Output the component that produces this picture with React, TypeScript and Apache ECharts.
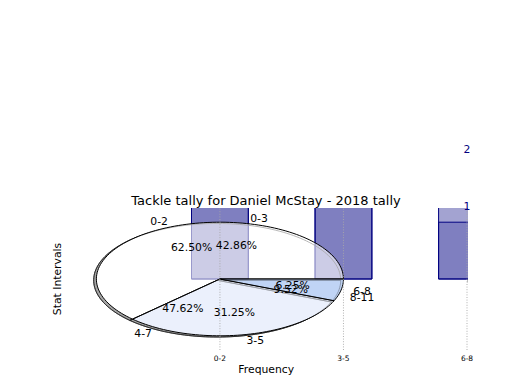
import React, { useEffect, useRef } from "react";
import * as echarts from "echarts";

const titleText = "Tackle tally for Daniel McStay - 2018 tally";
const xAxisName = "Frequency";
const yAxisName = "Stat Intervals";
const tickLabels = ["0-2", "3-5", "6-8"];
const tickValues = [0, 1, 2];

const pieLabelsA = ["0-2", "3-5", "6-8"];
const pieValuesA = [10, 5, 1];
const pieLabelsB = ["0-3", "4-7", "8-11"];
const pieValuesB = [9, 10, 2];

const barValuesA = [10, 5, 1];
const barValuesB = [9, 10, 2];

const wedgeColors = ["#ffffff", "#ebf0fc", "#c0d4f5"];
const FONT = '"DejaVu Sans", sans-serif';
const FS = 10.8;

type Wedge = { t1: number; t2: number; mid: number; color: string; label: string; pct: string };

function makeWedges(values: number[], labels: string[]): Wedge[] {
  const total = values.reduce((a, b) => a + b, 0);
  let acc = 0;
  return values.map((v, i) => {
    const t1 = (acc / total) * 360;
    acc += v;
    const t2 = (acc / total) * 360;
    return {
      t1,
      t2,
      mid: (t1 + t2) / 2,
      color: wedgeColors[i % wedgeColors.length],
      label: labels[i],
      pct: ((v / total) * 100).toFixed(2) + "%",
    };
  });
}

const wedgesA = makeWedges(pieValuesA, pieLabelsA);
const wedgesB = makeWedges(pieValuesB, pieLabelsB);

function wedgePoints(api: any, t1: number, t2: number, dx: number, dy: number) {
  const pts: number[][] = [api.coord([dx, dy])];
  const steps = Math.max(2, Math.ceil((t2 - t1) / 2));
  for (let k = 0; k <= steps; k++) {
    const t = ((t1 + ((t2 - t1) * k) / steps) * Math.PI) / 180;
    pts.push(api.coord([dx + Math.cos(t), dy + Math.sin(t)]));
  }
  return pts;
}

const SH = [-0.022, -0.022];
const BAR_W = 0.46;

export default function App() {
  const ref = useRef<HTMLDivElement>(null);
  useEffect(() => {
    if (!ref.current) return;
    const chart = echarts.init(ref.current, undefined, { renderer: "svg" });

    const pieLayer = (name: string, z: number, styleFn: (w: Wedge) => any, offset: number[]) => ({
      type: "custom",
      name,
      z,
      silent: true,
      data: wedgesA.map((_, i) => [i]),
      renderItem: (params: any, api: any) => {
        const w = wedgesA[params.dataIndex];
        return {
          type: "polygon",
          shape: { points: wedgePoints(api, w.t1, w.t2, offset[0], offset[1]) },
          style: styleFn(w),
        };
      },
    });

    const barLayer = (name: string, values: number[], fill: string, z: number) => ({
      type: "custom",
      name,
      z,
      clip: true,
      silent: true,
      data: values.map((v, i) => [tickValues[i], v]),
      renderItem: (params: any, api: any) => {
        const x = api.value(0);
        const v = api.value(1);
        const p1 = api.coord([x - BAR_W / 2, v]);
        const p2 = api.coord([x + BAR_W / 2, 0]);
        return {
          type: "rect",
          shape: { x: p1[0], y: p1[1], width: p2[0] - p1[0], height: p2[1] - p1[1] },
          style: { fill, stroke: "#000080", lineWidth: 1 },
        };
      },
    });

    type Lbl = { x: number; y: number; text: string; align: string; fill: string; dy: number };
    const labels: Lbl[] = [];
    [wedgesA, wedgesB].forEach((ws) => {
      ws.forEach((w) => {
        const t = (w.mid * Math.PI) / 180;
        labels.push({ x: 1.1 * Math.cos(t), y: 1.1 * Math.sin(t), text: w.label, align: Math.cos(t) > 0 ? "left" : "right", fill: "#000", dy: 0 });
        labels.push({ x: 0.6 * Math.cos(t), y: 0.6 * Math.sin(t), text: w.pct, align: "center", fill: "#000", dy: 0 });
      });
    });
    [barValuesA, barValuesB].forEach((vals) => {
      vals.forEach((v, i) => {
        labels.push({ x: tickValues[i], y: v, text: String(v), align: "center", fill: "#000080", dy: -16 });
      });
    });

    chart.setOption({
      animation: false,
      backgroundColor: "#ffffff",
      textStyle: { fontFamily: FONT },
      grid: { left: 65.5, right: 53, top: 208, bottom: 40, containLabel: false, outerBoundsMode: "none" },
      xAxis: {
        type: "value",
        min: -1.25,
        max: 2,
        name: xAxisName,
        nameLocation: "middle",
        nameGap: 14,
        nameTextStyle: { fontSize: FS, color: "#000", fontFamily: FONT },
        axisLine: { show: false },
        axisTick: { show: true, customValues: tickValues, length: 3.5, lineStyle: { color: "#b0b0b0", width: 0.8 } },
        axisLabel: {
          customValues: tickValues,
          fontSize: 7.5,
          color: "#000",
          margin: 4.5,
          fontFamily: FONT,
          formatter: (v: number) => {
            const i = tickValues.indexOf(Math.round(v * 1000) / 1000);
            return i >= 0 ? tickLabels[i] : "";
          },
        },
        splitLine: { show: false },
      },
      yAxis: {
        type: "value",
        min: -1.25,
        max: 1.25,
        name: yAxisName,
        nameLocation: "middle",
        nameGap: 3,
        nameRotate: 90,
        nameTextStyle: { fontSize: FS, color: "#000", fontFamily: FONT },
        axisLine: { show: false },
        axisTick: { show: false },
        axisLabel: { show: false },
        splitLine: { show: false },
      },
      graphic: [
        {
          type: "text",
          x: 266,
          y: 200,
          style: { text: titleText, fill: "#000", fontSize: 13, fontFamily: FONT, align: "center", verticalAlign: "middle" },
        },
      ],
      series: [
        pieLayer("shadowFill", 1, () => ({ fill: "rgba(77,77,77,0.5)", stroke: "rgba(40,40,40,0.7)", lineWidth: 1 }), SH),
        pieLayer("pieBase", 2, (w) => ({ fill: w.color, stroke: "none" }), [0, 0]),
        barLayer("barsB", barValuesB, "rgba(0,0,128,0.36)", 3),
        barLayer("barsA", barValuesA, "rgba(0,0,128,0.215)", 4),
        pieLayer("shadowLine", 5, () => ({ fill: "none", stroke: "#222", lineWidth: 0.8 }), SH),
        pieLayer("pieTop", 6, (w) => ({ fill: w.color, fillOpacity: 0.6, stroke: "#000", lineWidth: 1 }), [0, 0]),
        {
          type: "custom",
          name: "gridlines",
          z: 7,
          silent: true,
          data: tickValues.map((v) => [v]),
          renderItem: (params: any, api: any) => {
            const x = api.value(0);
            const a = api.coord([x, -1.25]);
            const b = api.coord([x, 1.25]);
            return {
              type: "line",
              shape: { x1: a[0], y1: a[1], x2: b[0], y2: b[1] },
              style: { stroke: "#a8a8a8", lineWidth: 0.9, lineDash: [1, 1.6] },
            };
          },
        },
        {
          type: "custom",
          name: "labels",
          z: 8,
          silent: true,
          clip: false,
          data: labels.map((l) => [l.x, l.y]),
          renderItem: (params: any, api: any) => {
            const l = labels[params.dataIndex];
            const p = api.coord([l.x, l.y]);
            const y = p[1] + l.dy;
            if (y < 8) return null;
            return {
              type: "text",
              x: p[0],
              y,
              style: { text: l.text, fill: l.fill, fontSize: FS, fontFamily: FONT, align: l.align, verticalAlign: "middle" },
            };
          },
        },
      ],
    });
    return () => chart.dispose();
  }, []);
  return <div ref={ref} style={{ position: "absolute", left: 0, top: 0, width: 520, height: 390 }} />;
}
